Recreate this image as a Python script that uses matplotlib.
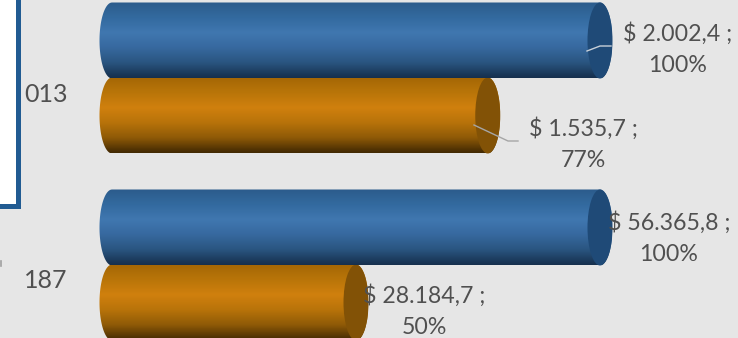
import numpy as np
import matplotlib
matplotlib.use("Agg")
import matplotlib.pyplot as plt
from matplotlib.colors import LinearSegmentedColormap
from matplotlib.patches import Ellipse, Polygon, Rectangle

plt.rcParams["font.family"] = ["Lato", "DejaVu Sans"]

categories = ["013", "187"]
blue_pct = [100, 100]
orange_pct = [77, 50]
blue_labels = ["$ 2.002,4 ;\n100%", "$ 56.365,8 ;\n100%"]
orange_labels = ["$ 1.535,7 ;\n77%", "$ 28.184,7 ;\n50%"]

W, H = 738, 338
BG = "#e6e6e6"
TEXT = "#505050"

# pixel layout of the plot area
X0, X100 = 112, 600
Y_CAT0, Y_STEP = 78, 187
CAP_W = 12.5
BAR_PX = 76

BLUE = ["#2c5c8c", "#336a9f", "#4077b0", "#37699f", "#2a5580", "#16304e"]
ORANGE = ["#a56705", "#b97509", "#d0800e", "#b8730a", "#8f5a07", "#432a03"]
BLUE_CAP = "#1f4a77"
ORANGE_CAP = "#825206"


def px_x(px):
    return (px - X0) / (X100 - X0) * 100


def px_y(py):
    return (py - Y_CAT0) / Y_STEP


def cylinder(ax, y, pct, stops, cap_color, z):
    h = BAR_PX / Y_STEP
    w = CAP_W / (X100 - X0) * 100
    t = np.linspace(np.pi / 2, 3 * np.pi / 2, 40)
    left_x = w * np.cos(t)
    left_y = y - h / 2 * np.sin(t)
    right_x = pct - w * np.cos(t)
    right_y = y + h / 2 * np.sin(t)
    outline = np.column_stack([np.r_[left_x, right_x], np.r_[left_y, right_y]])
    clip = Polygon(outline, closed=True, fc="none", ec="none", zorder=z)
    ax.add_patch(clip)
    cmap = LinearSegmentedColormap.from_list("cyl", stops)
    im = ax.imshow(np.linspace(0, 1, 80).reshape(-1, 1), cmap=cmap, aspect="auto",
                   extent=(-w, pct + w, y + h / 2, y - h / 2), zorder=z)
    im.set_clip_path(clip)
    ax.add_patch(Ellipse((pct, y), 2 * w, h, fc=cap_color, ec="none", zorder=z + 0.1))


fig = plt.figure(figsize=(W / 100, H / 100), dpi=100, facecolor=BG)
ax = fig.add_axes([0, 0, 1, 1])
ax.set_facecolor(BG)

off = 37.5 / Y_STEP
for i in range(len(categories)):
    cylinder(ax, i + off, orange_pct[i], ORANGE, ORANGE_CAP, 2)
    cylinder(ax, i - off, blue_pct[i], BLUE, BLUE_CAP, 3)

ax.set_xlim(px_x(0), px_x(W))
ax.set_ylim(px_y(H), px_y(0))
ax.axis("off")

# white box cut in at the top left
ax.add_patch(Rectangle((px_x(-5), px_y(-5)), px_x(18.5) - px_x(-5), px_y(206.5) - px_y(-5),
                       fc="white", ec="#215b92", lw=3.6, zorder=5))

# scrap of a cropped letter on the left edge
ax.plot([px_x(0.5), px_x(0.5)], [px_y(261), px_y(266)], color="#a0a0a0", lw=1.2, zorder=6)

cat_y = [95, 281]
for c, py in zip(categories, cat_y):
    ax.text(px_x(46), px_y(py), c, ha="center", va="center", fontsize=18, color=TEXT, zorder=6)

# data labels
label_pos = [(678, 49), (669, 238)]
for s, (px, py) in zip(blue_labels, label_pos):
    ax.text(px_x(px), px_y(py), s, ha="center", va="center", fontsize=16.7, color=TEXT,
            linespacing=1.58, zorder=6)
label_pos = [(583, 144), (424, 311)]
for s, (px, py) in zip(orange_labels, label_pos):
    ax.text(px_x(px), px_y(py), s, ha="center", va="center", fontsize=16.7, color=TEXT,
            linespacing=1.58, zorder=6)

# leader lines
ax.plot([px_x(587), px_x(600), px_x(611)], [px_y(51), px_y(46), px_y(46)],
        color="#c8d0d8", lw=1, zorder=6)
ax.plot([px_x(474), px_x(508), px_x(518)], [px_y(125), px_y(141), px_y(141)],
        color="#a6a6a6", lw=1, zorder=6)

fig.savefig("out.png", dpi=100, facecolor=BG)
